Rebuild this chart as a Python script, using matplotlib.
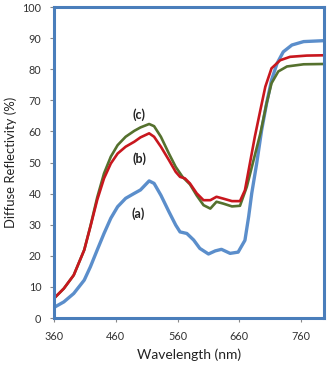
import matplotlib.pyplot as plt

# curve (a)
wl_a = [360, 376, 392, 409, 419, 430, 441, 452, 463, 476, 490, 500, 514, 522, 533, 546, 557, 564,
        575, 586, 596, 610, 621, 631, 645, 658, 669, 675, 680, 688, 696, 704, 712, 721, 731, 745,
        764, 797]
r_a = [3.4, 5.2, 7.9, 12.2, 16.5, 21.9, 27.2, 32.1, 35.8, 38.5, 40.1, 41.2, 44.1, 43.3, 39.5, 34.2, 29.9, 27.7,
       27.2, 25.1, 22.4, 20.6, 21.6, 22.1, 20.8, 21.2, 25.0, 32.6, 40.1, 49.7, 60.4, 69.0, 76.5, 81.9, 85.6, 87.8,
       88.9, 89.2]

# curve (b)
wl_b = [360, 376, 392, 409, 419, 430, 441, 452, 463, 476, 490, 500, 514, 522, 533, 546, 557, 564,
        572, 580, 591, 602, 613, 623, 634, 648, 661, 669, 677, 685, 694, 702, 712, 726, 742, 769, 797]
r_b = [6.3, 9.5, 13.8, 21.9, 29.4, 38.0, 44.9, 49.7, 52.9, 55.1, 56.7, 58.1, 59.4, 58.3, 55.1, 50.8, 47.0, 45.4,
       44.9, 43.3, 40.1, 37.9, 37.9, 39.0, 38.4, 37.6, 37.6, 41.1, 49.7, 58.3, 66.9, 74.4, 80.3, 82.9, 84.0, 84.4, 84.5]

# curve (c)
wl_c = [360, 376, 392, 409, 419, 430, 441, 452, 463, 476, 490, 500, 514, 522, 533, 546, 557, 568,
        580, 591, 602, 613, 623, 634, 648, 661, 672, 683, 694, 704, 712, 723, 737, 764, 797]
r_c = [6.3, 9.5, 13.8, 21.9, 29.6, 38.8, 46.5, 51.9, 55.6, 58.3, 60.2, 61.3, 62.4, 61.7, 58.3, 52.9, 48.6, 45.4,
       43.0, 39.4, 36.3, 35.2, 37.4, 36.8, 35.9, 36.1, 42.2, 50.8, 59.4, 69.0, 75.5, 79.3, 80.9, 81.6, 81.7]

labels = ['(a)', '(b)', '(c)']
label_pos = [(497, 33.7), (498, 51.3), (498, 65.3)]

plt.rcParams['font.family'] = ['Lato', 'DejaVu Sans']

fig = plt.figure(figsize=(3.31, 3.72), dpi=100)
ax = fig.add_axes([0.163, 0.145, 0.816, 0.836])

ax.plot(wl_a, r_a, color='#5b8ecb', lw=2.4, solid_capstyle='round', solid_joinstyle='round')
ax.plot(wl_c, r_c, color='#55712e', lw=1.9, solid_joinstyle='round')
ax.plot(wl_b, r_b, color='#c8171e', lw=1.9, solid_joinstyle='round')

for t, (x, y) in zip(labels, label_pos):
    ax.text(x, y, t, ha='center', va='center', fontsize=9, fontweight='bold', color='#222222')

ax.set_xlim(360, 797)
ax.set_ylim(0, 100)
ax.set_xticks(range(360, 761, 100))
ax.set_yticks(range(0, 101, 10))
ax.tick_params(labelsize=7.8, length=3, color='#888888', width=0.8, labelcolor='#333333')
ax.tick_params(axis='x', pad=6)
ax.tick_params(axis='y', pad=6)

for s in ax.spines.values():
    s.set_color('#4a7ebb')
    s.set_linewidth(2.2)

ax.set_xlabel('Wavelength (nm)', fontsize=10, labelpad=5, color='#222222')
ax.set_ylabel('Diffuse Reflectivity (%)', fontsize=9.4, labelpad=4, color='#222222')

fig.savefig('out.png', dpi=100)
